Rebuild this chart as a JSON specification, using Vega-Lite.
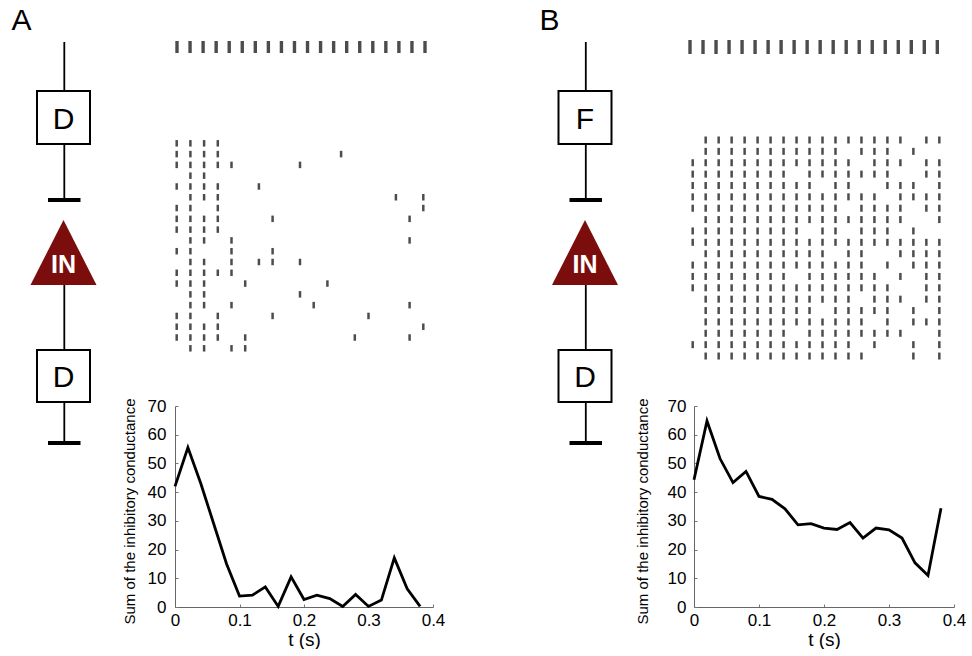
{
  "$schema": "https://vega.github.io/schema/vega-lite/v6.json",
  "padding": 0,
  "background": "white",
  "config": {
    "view": {"stroke": null},
    "font": "Liberation Sans",
    "axis": {
      "grid": false,
      "ticks": true,
      "tickSize": -3,
      "tickColor": "#777",
      "tickWidth": 1,
      "domainColor": "#666",
      "domainWidth": 1,
      "labelFont": "Liberation Sans",
      "labelFontSize": 17,
      "labelColor": "#000",
      "labelFlush": false,
      "titleFont": "Liberation Sans",
      "titleColor": "#000",
      "titleFontWeight": "normal"
    }
  },
  "datasets": {
    "wires": [
      {"x": 64.3, "y": 42, "y2": 91},
      {"x": 64.3, "y": 144, "y2": 200},
      {"x": 64.3, "y": 285, "y2": 350},
      {"x": 64.3, "y": 402, "y2": 443}
    ],
    "synapses": [
      {"x": 48, "x2": 80.5, "y": 200},
      {"x": 48, "x2": 80.5, "y": 443}
    ],
    "boxesA": [
      {"x": 37, "x2": 90, "y": 91, "y2": 144, "xc": 63.5, "yc": 117.5, "label": "D"},
      {"x": 37, "x2": 90, "y": 350, "y2": 402, "xc": 63.5, "yc": 376, "label": "D"}
    ],
    "boxesB": [
      {"x": 37, "x2": 90, "y": 91, "y2": 144, "xc": 63.5, "yc": 117.5, "label": "F"},
      {"x": 37, "x2": 90, "y": 350, "y2": 402, "xc": 63.5, "yc": 376, "label": "D"}
    ],
    "cell": [
      {"x": 30.5, "y": 285, "y2": 285},
      {"x": 63.5, "y": 220, "y2": 285},
      {"x": 96.5, "y": 285, "y2": 285}
    ],
    "cellLabel": [{"x": 63.5, "y": 263, "label": "IN"}],
    "panelA": [{"x": 21.5, "y": 30, "label": "A"}],
    "panelB": [{"x": 28, "y": 30, "label": "B"}],
    "stim": [
      {"t": 0}, {"t": 0.02}, {"t": 0.04}, {"t": 0.06}, {"t": 0.08},
      {"t": 0.1}, {"t": 0.12}, {"t": 0.14}, {"t": 0.16}, {"t": 0.18},
      {"t": 0.2}, {"t": 0.22}, {"t": 0.24}, {"t": 0.26}, {"t": 0.28},
      {"t": 0.3}, {"t": 0.32}, {"t": 0.34}, {"t": 0.36}, {"t": 0.38}
    ],
    "rasterA": [
      {"r": 1, "c": [0, 1, 2, 3]},
      {"r": 2, "c": [0, 1, 2, 3, 12]},
      {"r": 3, "c": [0, 1, 2, 3, 4, 9]},
      {"r": 4, "c": [1, 2]},
      {"r": 5, "c": [0, 1, 2, 3, 6]},
      {"r": 6, "c": [1, 2, 3, 16, 18]},
      {"r": 7, "c": [0, 1, 3, 18]},
      {"r": 8, "c": [0, 1, 2, 3, 7, 17]},
      {"r": 9, "c": [0, 1, 2, 3]},
      {"r": 10, "c": [1, 2, 4, 17]},
      {"r": 11, "c": [0, 1, 4, 7]},
      {"r": 12, "c": [1, 2, 4, 6, 7, 9]},
      {"r": 13, "c": [0, 1, 2, 3, 4]},
      {"r": 14, "c": [0, 1, 2, 5, 11]},
      {"r": 15, "c": [1, 2, 9]},
      {"r": 16, "c": [1, 2, 4, 10, 17]},
      {"r": 17, "c": [0, 1, 3, 7, 14]},
      {"r": 18, "c": [0, 1, 2, 3, 18]},
      {"r": 19, "c": [0, 1, 2, 3, 5, 13, 17]},
      {"r": 20, "c": [1, 2, 4, 5]}
    ],
    "rasterB": [
      {"r": 1, "c": [1, 2, 3, 4, 5, 6, 7, 8, 9, 10, 11, 12, 13, 14, 15, 16, 18, 19]},
      {"r": 2, "c": [1, 2, 3, 4, 5, 6, 7, 8, 9, 10, 11, 13, 14, 15, 17]},
      {"r": 3, "c": [0, 1, 2, 3, 4, 5, 6, 7, 8, 9, 10, 11, 12, 14, 15, 16, 18, 19]},
      {"r": 4, "c": [0, 1, 2, 3, 4, 5, 6, 7, 9, 10, 11, 12, 13, 14, 15, 18, 19]},
      {"r": 5, "c": [0, 1, 2, 3, 4, 5, 6, 7, 8, 9, 11, 12, 15, 16, 17, 19]},
      {"r": 6, "c": [0, 1, 2, 3, 4, 5, 6, 7, 8, 9, 10, 11, 12, 13, 14, 16, 17, 18, 19]},
      {"r": 7, "c": [0, 1, 2, 3, 4, 5, 6, 7, 8, 9, 10, 11, 13, 14, 15, 16, 18, 19]},
      {"r": 8, "c": [1, 2, 3, 4, 5, 6, 7, 8, 9, 10, 11, 12, 13, 14, 15, 16, 19]},
      {"r": 9, "c": [0, 1, 2, 3, 4, 5, 6, 7, 8, 10, 11, 13, 14, 15, 17]},
      {"r": 10, "c": [0, 1, 2, 3, 4, 5, 6, 7, 8, 9, 10, 11, 12, 13, 14, 15, 16, 17, 18, 19]},
      {"r": 11, "c": [1, 2, 3, 4, 5, 6, 7, 8, 9, 10, 12, 13, 16, 17, 18, 19]},
      {"r": 12, "c": [0, 1, 2, 3, 4, 5, 6, 7, 8, 9, 10, 11, 12, 13, 15, 17, 18, 19]},
      {"r": 13, "c": [0, 1, 2, 3, 4, 5, 6, 7, 9, 10, 11, 12, 13, 14, 16, 18, 19]},
      {"r": 14, "c": [0, 1, 2, 3, 4, 5, 6, 7, 8, 9, 10, 11, 12, 13, 14, 15, 18, 19]},
      {"r": 15, "c": [1, 2, 3, 4, 5, 6, 7, 8, 9, 10, 11, 12, 14, 15, 16, 18, 19]},
      {"r": 16, "c": [1, 2, 3, 4, 5, 6, 7, 8, 9, 11, 12, 13, 14, 15, 17, 19]},
      {"r": 17, "c": [1, 2, 3, 4, 5, 6, 7, 8, 9, 10, 11, 12, 13, 15, 17, 18, 19]},
      {"r": 18, "c": [1, 2, 3, 4, 5, 6, 7, 9, 10, 11, 12, 13, 14, 15, 16, 19]},
      {"r": 19, "c": [0, 1, 2, 3, 4, 5, 6, 7, 8, 9, 10, 11, 12, 14, 17, 19]},
      {"r": 20, "c": [1, 2, 3, 4, 5, 6, 7, 8, 9, 10, 11, 12, 13, 17, 19]}
    ],
    "condA": [
      {"t": 0, "g": 42}, {"t": 0.02, "g": 55.5}, {"t": 0.04, "g": 43}, {"t": 0.06, "g": 29},
      {"t": 0.08, "g": 15}, {"t": 0.1, "g": 3.8}, {"t": 0.12, "g": 4.1}, {"t": 0.14, "g": 7},
      {"t": 0.16, "g": 0.2}, {"t": 0.18, "g": 10.5}, {"t": 0.2, "g": 2.6}, {"t": 0.22, "g": 4.1},
      {"t": 0.24, "g": 2.9}, {"t": 0.26, "g": 0.2}, {"t": 0.28, "g": 4.4}, {"t": 0.3, "g": 0.2},
      {"t": 0.32, "g": 2.4}, {"t": 0.34, "g": 17.1}, {"t": 0.36, "g": 6.3}, {"t": 0.38, "g": 0.2}
    ],
    "condB": [
      {"t": 0, "g": 44.3}, {"t": 0.02, "g": 64.8}, {"t": 0.04, "g": 51.7}, {"t": 0.06, "g": 43.3},
      {"t": 0.08, "g": 47.2}, {"t": 0.1, "g": 38.5}, {"t": 0.12, "g": 37.5}, {"t": 0.14, "g": 34.2},
      {"t": 0.16, "g": 28.6}, {"t": 0.18, "g": 29}, {"t": 0.2, "g": 27.5}, {"t": 0.22, "g": 27},
      {"t": 0.24, "g": 29.4}, {"t": 0.26, "g": 24}, {"t": 0.28, "g": 27.5}, {"t": 0.3, "g": 26.9},
      {"t": 0.32, "g": 24}, {"t": 0.34, "g": 15.4}, {"t": 0.36, "g": 11}, {"t": 0.38, "g": 34.4}
    ]
  },
  "columns": 4,
  "bounds": "flush",
  "align": "each",
  "spacing": {"row": 30, "column": 0},
  "concat": [
    {
      "width": 175,
      "height": 94,
      "layer": [
        {
          "data": {"name": "wires"},
          "mark": {"type": "rule", "color": "#000", "strokeWidth": 1.8},
          "encoding": {
            "x": {"field": "x", "type": "quantitative", "scale": {"domain": [0, 175], "nice": false, "zero": false}, "axis": null},
            "y": {"field": "y", "type": "quantitative", "scale": {"domain": [0, 94], "reverse": true, "nice": false, "zero": false}, "axis": null},
            "y2": {"field": "y2"}
          }
        },
        {
          "data": {"name": "synapses"},
          "mark": {"type": "rule", "color": "#000", "strokeWidth": 4},
          "encoding": {
            "x": {"field": "x", "type": "quantitative", "scale": {"domain": [0, 175], "nice": false, "zero": false}, "axis": null},
            "x2": {"field": "x2"},
            "y": {"field": "y", "type": "quantitative", "scale": {"domain": [0, 94], "reverse": true, "nice": false, "zero": false}, "axis": null}
          }
        },
        {
          "data": {"name": "boxesA"},
          "mark": {"type": "rect", "fill": "white", "stroke": "#000", "strokeWidth": 2},
          "encoding": {
            "x": {"field": "x", "type": "quantitative", "scale": {"domain": [0, 175], "nice": false, "zero": false}, "axis": null},
            "x2": {"field": "x2"},
            "y": {"field": "y", "type": "quantitative", "scale": {"domain": [0, 94], "reverse": true, "nice": false, "zero": false}, "axis": null},
            "y2": {"field": "y2"}
          }
        },
        {
          "data": {"name": "boxesA"},
          "mark": {"type": "text", "fontSize": 30, "color": "#000", "baseline": "middle", "align": "center", "dy": 2},
          "encoding": {
            "x": {"field": "xc", "type": "quantitative", "scale": {"domain": [0, 175], "nice": false, "zero": false}, "axis": null},
            "y": {"field": "yc", "type": "quantitative", "scale": {"domain": [0, 94], "reverse": true, "nice": false, "zero": false}, "axis": null},
            "text": {"field": "label"}
          }
        },
        {
          "data": {"name": "cell"},
          "mark": {"type": "area", "color": "#7b0d0d", "orient": "vertical"},
          "encoding": {
            "x": {"field": "x", "type": "quantitative", "scale": {"domain": [0, 175], "nice": false, "zero": false}, "axis": null},
            "y": {"field": "y", "type": "quantitative", "scale": {"domain": [0, 94], "reverse": true, "nice": false, "zero": false}, "axis": null},
            "y2": {"field": "y2"}
          }
        },
        {
          "data": {"name": "cellLabel"},
          "mark": {"type": "text", "fontSize": 25, "fontWeight": "bold", "color": "white", "baseline": "middle", "align": "center", "dy": 2},
          "encoding": {
            "x": {"field": "x", "type": "quantitative", "scale": {"domain": [0, 175], "nice": false, "zero": false}, "axis": null},
            "y": {"field": "y", "type": "quantitative", "scale": {"domain": [0, 94], "reverse": true, "nice": false, "zero": false}, "axis": null},
            "text": {"field": "label"}
          }
        },
        {
          "data": {"name": "panelA"},
          "mark": {"type": "text", "fontSize": 30, "color": "#000", "baseline": "alphabetic", "align": "center"},
          "encoding": {
            "x": {"field": "x", "type": "quantitative", "scale": {"domain": [0, 175], "nice": false, "zero": false}, "axis": null},
            "y": {"field": "y", "type": "quantitative", "scale": {"domain": [0, 94], "reverse": true, "nice": false, "zero": false}, "axis": null},
            "text": {"field": "label"}
          }
        }
      ]
    },
    {
      "width": 258,
      "height": 94,
      "data": {"name": "stim"},
      "mark": {"type": "tick", "orient": "vertical", "thickness": 3.4, "size": 12, "color": "#000"},
      "encoding": {
        "x": {"field": "t", "type": "quantitative", "scale": {"domain": [-0.00306, 0.39226], "nice": false, "zero": false}, "axis": null}
      }
    },
    {
      "width": 261,
      "height": 94,
      "layer": [
        {
          "data": {"name": "wires"},
          "mark": {"type": "rule", "color": "#000", "strokeWidth": 1.8},
          "encoding": {
            "x": {"field": "x", "type": "quantitative", "scale": {"domain": [-88.5, 172.5], "nice": false, "zero": false}, "axis": null},
            "y": {"field": "y", "type": "quantitative", "scale": {"domain": [0, 94], "reverse": true, "nice": false, "zero": false}, "axis": null},
            "y2": {"field": "y2"}
          }
        },
        {
          "data": {"name": "synapses"},
          "mark": {"type": "rule", "color": "#000", "strokeWidth": 4},
          "encoding": {
            "x": {"field": "x", "type": "quantitative", "scale": {"domain": [-88.5, 172.5], "nice": false, "zero": false}, "axis": null},
            "x2": {"field": "x2"},
            "y": {"field": "y", "type": "quantitative", "scale": {"domain": [0, 94], "reverse": true, "nice": false, "zero": false}, "axis": null}
          }
        },
        {
          "data": {"name": "boxesB"},
          "mark": {"type": "rect", "fill": "white", "stroke": "#000", "strokeWidth": 2},
          "encoding": {
            "x": {"field": "x", "type": "quantitative", "scale": {"domain": [-88.5, 172.5], "nice": false, "zero": false}, "axis": null},
            "x2": {"field": "x2"},
            "y": {"field": "y", "type": "quantitative", "scale": {"domain": [0, 94], "reverse": true, "nice": false, "zero": false}, "axis": null},
            "y2": {"field": "y2"}
          }
        },
        {
          "data": {"name": "boxesB"},
          "mark": {"type": "text", "fontSize": 30, "color": "#000", "baseline": "middle", "align": "center", "dy": 2},
          "encoding": {
            "x": {"field": "xc", "type": "quantitative", "scale": {"domain": [-88.5, 172.5], "nice": false, "zero": false}, "axis": null},
            "y": {"field": "yc", "type": "quantitative", "scale": {"domain": [0, 94], "reverse": true, "nice": false, "zero": false}, "axis": null},
            "text": {"field": "label"}
          }
        },
        {
          "data": {"name": "cell"},
          "mark": {"type": "area", "color": "#7b0d0d", "orient": "vertical"},
          "encoding": {
            "x": {"field": "x", "type": "quantitative", "scale": {"domain": [-88.5, 172.5], "nice": false, "zero": false}, "axis": null},
            "y": {"field": "y", "type": "quantitative", "scale": {"domain": [0, 94], "reverse": true, "nice": false, "zero": false}, "axis": null},
            "y2": {"field": "y2"}
          }
        },
        {
          "data": {"name": "cellLabel"},
          "mark": {"type": "text", "fontSize": 25, "fontWeight": "bold", "color": "white", "baseline": "middle", "align": "center", "dy": 2},
          "encoding": {
            "x": {"field": "x", "type": "quantitative", "scale": {"domain": [-88.5, 172.5], "nice": false, "zero": false}, "axis": null},
            "y": {"field": "y", "type": "quantitative", "scale": {"domain": [0, 94], "reverse": true, "nice": false, "zero": false}, "axis": null},
            "text": {"field": "label"}
          }
        },
        {
          "data": {"name": "panelB"},
          "mark": {"type": "text", "fontSize": 30, "color": "#000", "baseline": "alphabetic", "align": "center"},
          "encoding": {
            "x": {"field": "x", "type": "quantitative", "scale": {"domain": [-88.5, 172.5], "nice": false, "zero": false}, "axis": null},
            "y": {"field": "y", "type": "quantitative", "scale": {"domain": [0, 94], "reverse": true, "nice": false, "zero": false}, "axis": null},
            "text": {"field": "label"}
          }
        }
      ]
    },
    {
      "width": 260,
      "height": 94,
      "data": {"name": "stim"},
      "mark": {"type": "tick", "orient": "vertical", "thickness": 3.4, "size": 14, "color": "#000"},
      "encoding": {
        "x": {"field": "t", "type": "quantitative", "scale": {"domain": [0.00614, 0.40564], "nice": false, "zero": false}, "axis": null}
      }
    },
    {
      "width": 175,
      "height": 1,
      "data": {"values": []},
      "mark": {"type": "point", "opacity": 0},
      "encoding": {}
    },
    {
      "width": 258,
      "height": 251.7,
      "data": {"name": "rasterA"},
      "transform": [{"flatten": ["c"]}],
      "mark": {"type": "tick", "orient": "vertical", "thickness": 2.5, "size": 6.5, "color": "#000"},
      "encoding": {
        "x": {"field": "c", "type": "quantitative", "scale": {"domain": [-0.124, 18.708], "nice": false, "zero": false}, "axis": null},
        "y": {"field": "r", "type": "quantitative", "scale": {"domain": [-0.79, 22.54], "reverse": true, "nice": false, "zero": false}, "axis": null}
      }
    },
    {
      "width": 261,
      "height": 1,
      "data": {"values": []},
      "mark": {"type": "point", "opacity": 0},
      "encoding": {}
    },
    {
      "width": 260,
      "height": 251.7,
      "data": {"name": "rasterB"},
      "transform": [{"flatten": ["c"]}],
      "mark": {"type": "tick", "orient": "vertical", "thickness": 2.5, "size": 7, "color": "#000"},
      "encoding": {
        "x": {"field": "c", "type": "quantitative", "scale": {"domain": [0.1, 20.13], "nice": false, "zero": false}, "axis": null},
        "y": {"field": "r", "type": "quantitative", "scale": {"domain": [-0.407, 21.73], "reverse": true, "nice": false, "zero": false}, "axis": null}
      }
    },
    {
      "width": 175,
      "height": 1,
      "data": {"values": []},
      "mark": {"type": "point", "opacity": 0},
      "encoding": {}
    },
    {
      "width": 258,
      "height": 201,
      "data": {"name": "condA"},
      "mark": {"type": "line", "color": "#000", "strokeWidth": 2.8},
      "encoding": {
        "x": {"field": "t", "type": "quantitative", "scale": {"domain": [0, 0.4], "nice": false, "zero": false},
          "axis": {"values": [0, 0.1, 0.2, 0.3, 0.4], "format": "~g", "title": "t (s)", "titleFontSize": 19, "titlePadding": 2, "labelPadding": 8}},
        "y": {"field": "g", "type": "quantitative", "scale": {"domain": [0, 70], "nice": false},
          "axis": {"values": [0, 10, 20, 30, 40, 50, 60, 70], "title": "Sum of the inhibitory conductance", "titleFontSize": 15, "titleY": 105, "titlePadding": 10, "labelPadding": 12}}
      }
    },
    {
      "width": 261,
      "height": 1,
      "data": {"values": []},
      "mark": {"type": "point", "opacity": 0},
      "encoding": {}
    },
    {
      "width": 260,
      "height": 201,
      "data": {"name": "condB"},
      "mark": {"type": "line", "color": "#000", "strokeWidth": 2.8},
      "encoding": {
        "x": {"field": "t", "type": "quantitative", "scale": {"domain": [0, 0.4], "nice": false, "zero": false},
          "axis": {"values": [0, 0.1, 0.2, 0.3, 0.4], "format": "~g", "title": "t (s)", "titleFontSize": 19, "titlePadding": 2, "labelPadding": 8}},
        "y": {"field": "g", "type": "quantitative", "scale": {"domain": [0, 70], "nice": false},
          "axis": {"values": [0, 10, 20, 30, 40, 50, 60, 70], "title": "Sum of the inhibitory conductance", "titleFontSize": 15, "titleY": 105, "titlePadding": 17, "labelPadding": 11}}
      }
    }
  ]
}
